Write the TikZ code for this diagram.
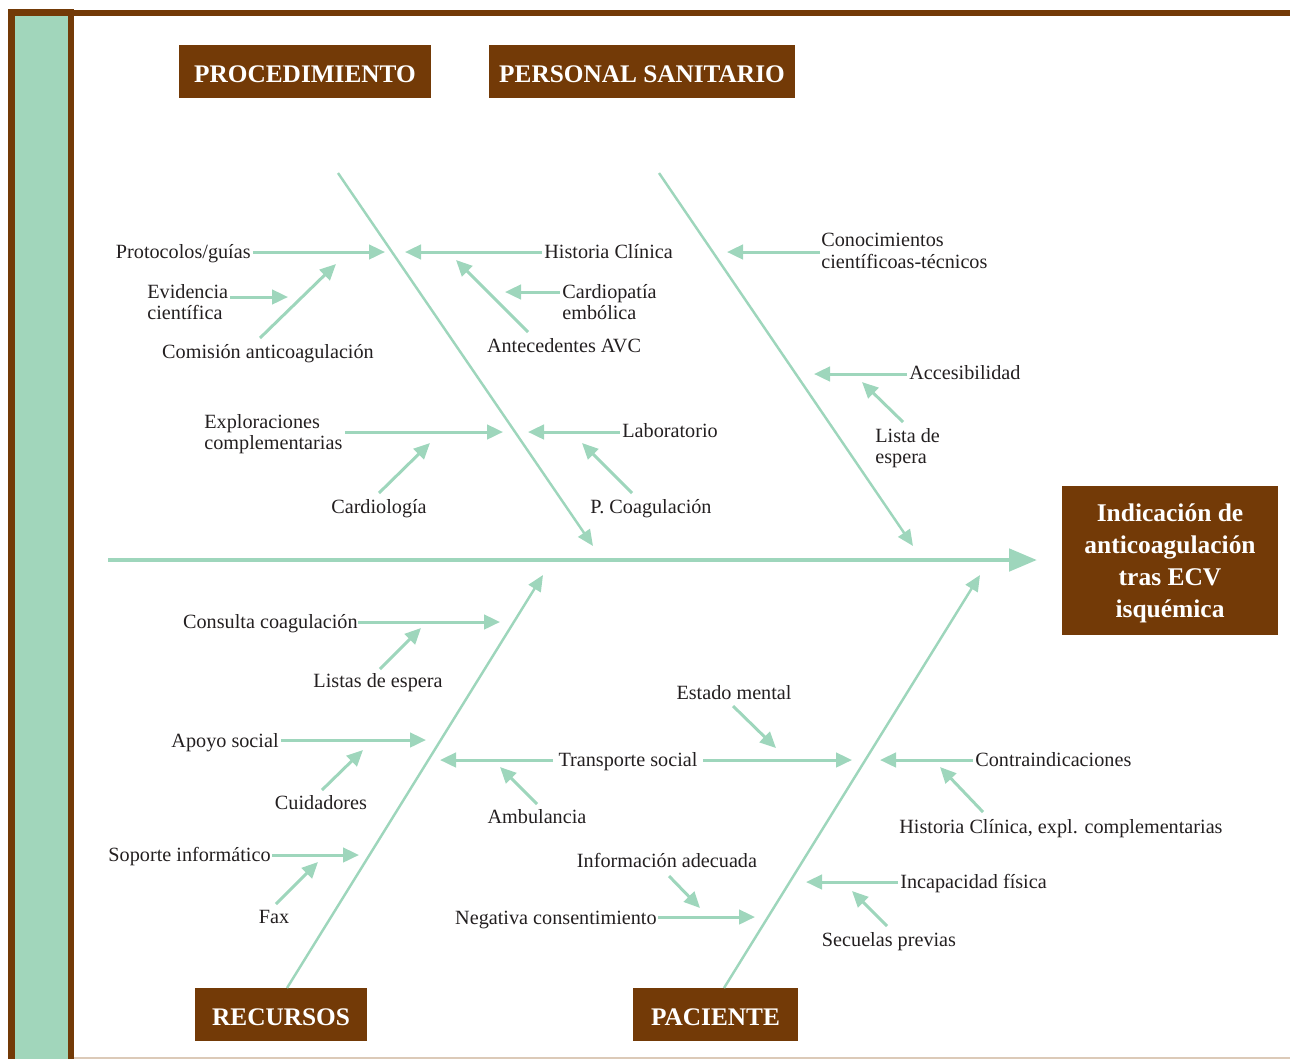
\documentclass[tikz,border=0pt]{standalone}
\usepackage{fontspec}
\setmainfont{Liberation Serif}
\usetikzlibrary{arrows.meta}
\definecolor{brn}{HTML}{733A07}
\definecolor{grn}{HTML}{9ED6BC}
\definecolor{strip}{HTML}{A1D6BB}
\definecolor{tanline}{HTML}{DCCAB8}
\definecolor{txt}{HTML}{231F20}
\newcommand\arr[3]{\coordinate (#1a) at (#2); \coordinate (#1b) at (#3); \draw[sub] (#1a) -- (#1b);}
\begin{document}
\begin{tikzpicture}[x=0.02cm,y=-0.02cm,
  lbl/.style={font=\fontsize{11.5}{12.1}\selectfont, text=txt, inner sep=0pt, align=left},
  hdr/.style={fill=brn, text=white, font=\fontsize{14.4}{16}\selectfont\bfseries, inner sep=0pt,
     text height=12pt, text depth=0pt, minimum height=1.06cm},
  sub/.style={grn, line width=1.7pt, -{Triangle[length=0.32cm,width=0.29cm]}},
  bone/.style={grn, line width=1.4pt, -{Triangle[length=0.32cm,width=0.28cm]}}]
\useasboundingbox (0,0) rectangle (1290,1059);
% frame
\fill[brn] (8,9) rectangle (74,1059);
\fill[strip] (14.5,16) rectangle (67.5,1059);
\fill[brn] (74,10) rectangle (1290,16);
\draw[tanline, line width=0.8pt] (74,1058) -- (1290,1058);
% headers
\node[hdr, minimum width=5.04cm] (proc) at (305,71.5) {PROCEDIMIENTO};
\node[hdr, minimum width=6.12cm] (pers) at (642,71.5) {PERSONAL SANITARIO};
\node[hdr, minimum width=3.44cm] (recu) at (281,1014.5) {RECURSOS};
\node[hdr, minimum width=3.3cm] (paci) at (715.5,1014.5) {PACIENTE};
\node[fill=brn, minimum width=4.32cm, minimum height=2.98cm, inner sep=0pt] (res) at (1170,560.5) {};
\node[text=white, font=\fontsize{14.5}{18.1}\selectfont\bfseries, align=center, inner sep=0pt]
      (restxt) at (1170,563.5) {Indicación de\\anticoagulación\\tras ECV\\isquémica};
% spine
\coordinate (sp0) at (108,560);
\coordinate (sp1) at (1037,560);
\draw[grn, line width=2.8pt, -{Triangle[length=0.56cm,width=0.44cm]}] (sp0) -- (sp1);
% bones
\coordinate (b1a) at (338,173); \coordinate (b1b) at (593,546);
\coordinate (b2a) at (659,173); \coordinate (b2b) at (913,546);
\coordinate (b3a) at (287,988); \coordinate (b3b) at (543,575);
\coordinate (b4a) at (724,988); \coordinate (b4b) at (980,575);
\draw[bone] (b1a) -- (b1b);
\draw[bone] (b2a) -- (b2b);
\draw[bone] (b3a) -- (b3b);
\draw[bone] (b4a) -- (b4b);
% PROCEDIMIENTO labels
\node[lbl, anchor=base east] (n1) at (251,258) {Protocolos/guías};
\arr{a1}{253,252}{385,252}
\node[lbl, anchor=west] (n2) at (147,302) {Evidencia\\científica};
\arr{a2}{230,297}{288,297}
\node[lbl, anchor=base] (n3) at (268,358) {Comisión anticoagulación};
\arr{a3}{260,338}{336,264}
\node[lbl, anchor=base west] (n4) at (544,258) {Historia Clínica};
\arr{a4}{542,252}{405,252}
\node[lbl, anchor=west] (n5) at (562,302) {Cardiopatía\\embólica};
\arr{a5}{560,292}{505,292}
\node[lbl, anchor=base] (n6) at (564,352) {Antecedentes AVC};
\arr{a6}{528,332}{456,260}
\node[lbl, anchor=west] (n7) at (204,434) {Exploraciones\\complementarias};
\arr{a7}{345,432}{503,432}
\node[lbl, anchor=base] (n8) at (379,513) {Cardiología};
\arr{a8}{379,493}{430,443}
\node[lbl, anchor=base west] (n9) at (622,437) {Laboratorio};
\arr{a9}{620,432}{528,432}
\node[lbl, anchor=base west] (n10) at (590,513) {P. Coagulación};
\arr{a10}{632,493}{582,443}
% PERSONAL SANITARIO labels
\node[lbl, anchor=west] (n11) at (821,251) {Conocimientos\\científicoas-técnicos};
\arr{a11}{820,252}{727,252}
\node[lbl, anchor=base west] (n12) at (909,379) {Accesibilidad};
\arr{a12}{907,374}{814,374}
\node[lbl, anchor=west] (n13) at (875,448) {Lista de\\espera};
\arr{a13}{903,422}{862,382}
% RECURSOS labels
\node[lbl, anchor=base east] (n14) at (358,628) {Consulta coagulación};
\arr{a14}{358,622}{500,622}
\node[lbl, anchor=base] (n15) at (378,687) {Listas de espera};
\arr{a15}{380,669}{421,628}
\node[lbl, anchor=base east] (n16) at (279,747) {Apoyo social};
\arr{a16}{281,740}{426,740}
\node[lbl, anchor=base] (n17) at (321,809) {Cuidadores};
\arr{a17}{322,790}{363,750}
\node[lbl, anchor=base east] (n18) at (271,861) {Soporte informático};
\arr{a18}{272,855}{359,855}
\node[lbl, anchor=base] (n19) at (274,923) {Fax};
\arr{a19}{276,904}{318,862}
% PACIENTE labels
\node[lbl, anchor=base] (n20) at (628,766) {Transporte social};
\arr{a20}{553,760}{440,760}
\arr{a20r}{703,760}{852,760}
\node[lbl, anchor=base] (n21) at (734,699) {Estado mental};
\arr{a21}{733,706}{776,748}
\node[lbl, anchor=base] (n22) at (537,823) {Ambulancia};
\arr{a22}{537,804}{500,767}
\node[lbl, anchor=base] (n23) at (667,867) {Información adecuada};
\arr{a23}{669,876}{700,908}
\node[lbl, anchor=base east] (n24) at (657,924) {Negativa consentimiento};
\arr{a24}{658,917}{755,917}
\node[lbl, anchor=base west] (n25) at (975,766) {Contraindicaciones};
\arr{a25}{973,760}{880,760}
\node[lbl, anchor=base west] (n26) at (899,833) {Historia Clínica, expl. complementarias};
\arr{a26}{983,812}{940,767}
\node[lbl, anchor=base west] (n27) at (900,888) {Incapacidad física};
\arr{a27}{898,882}{806,882}
\node[lbl, anchor=base] (n28) at (889,946) {Secuelas previas};
\arr{a28}{887,926}{852,891}
\end{tikzpicture}
\end{document}
